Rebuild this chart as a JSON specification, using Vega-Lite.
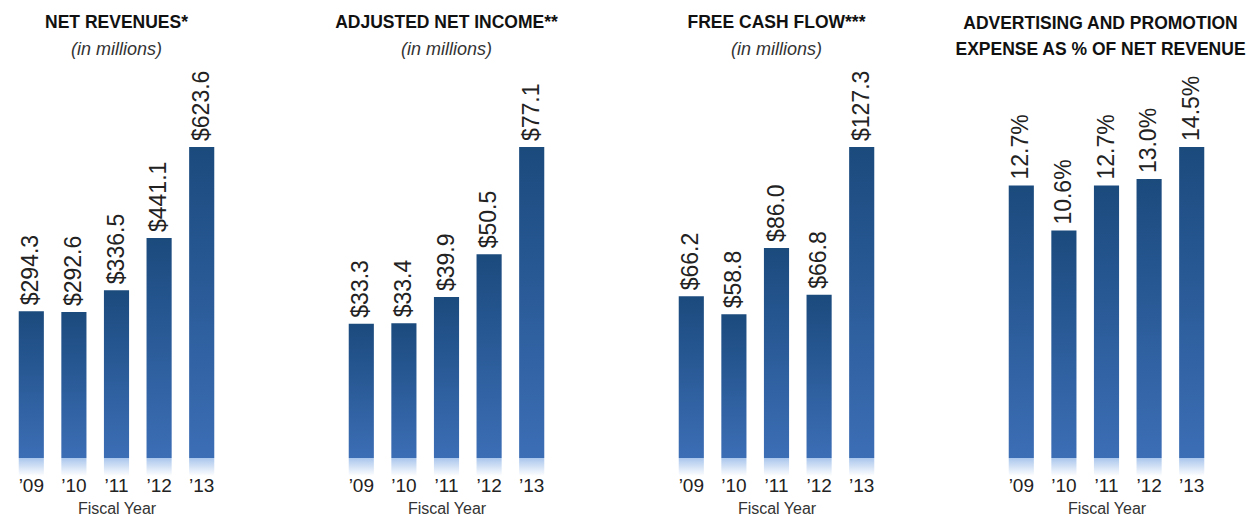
{
  "$schema": "https://vega.github.io/schema/vega-lite/v6.json",
  "background": "white",
  "padding": {"left": 10, "top": 14, "right": 0, "bottom": 0},
  "spacing": 117,
  "bounds": "flush",
  "data": {"values": [
    {"year": "’09", "rev": 294.3, "ani": 33.3, "fcf": 66.2, "adv": 12.7, "advLabel": "12.7%"},
    {"year": "’10", "rev": 292.6, "ani": 33.4, "fcf": 58.8, "adv": 10.6, "advLabel": "10.6%"},
    {"year": "’11", "rev": 336.5, "ani": 39.9, "fcf": 86.0, "adv": 12.7, "advLabel": "12.7%"},
    {"year": "’12", "rev": 441.1, "ani": 50.5, "fcf": 66.8, "adv": 13.0, "advLabel": "13.0%"},
    {"year": "’13", "rev": 623.6, "ani": 77.1, "fcf": 127.3, "adv": 14.5, "advLabel": "14.5%"}
  ]},
  "hconcat": [
    {
      "width": 213, "height": 411,
      "title": {"text": "NET REVENUES*", "subtitle": "(in millions)"},
      "encoding": {"x": {"field": "year", "type": "nominal", "sort": null, "scale": {"paddingInner": 0.41, "paddingOuter": 0.205}, "title": "Fiscal Year"}},
      "layer": [
        {"mark": {"type": "bar", "fill": {"gradient": "linear", "x1": 0, "y1": 0, "x2": 0, "y2": 1, "stops": [{"offset": 0, "color": "#1b4a7d"}, {"offset": 1, "color": "#3c6eb6"}]}},
         "encoding": {"y": {"field": "rev", "type": "quantitative", "scale": {"domain": [-36.09, 788.0], "nice": false, "zero": false}, "axis": null}, "y2": {"datum": 0}}},
        {"mark": {"type": "bar", "fill": {"gradient": "linear", "x1": 0, "y1": 0, "x2": 0, "y2": 1, "stops": [{"offset": 0, "color": "#a9c6ec"}, {"offset": 1, "color": "#ffffff"}]}},
         "encoding": {"y": {"datum": 0, "type": "quantitative"}, "y2": {"datum": -36.09}}},
        {"mark": {"type": "text", "angle": 270, "align": "left", "baseline": "middle", "dx": 6, "fontSize": 23, "font": "Liberation Sans", "color": "#222"},
         "encoding": {"y": {"field": "rev", "type": "quantitative"}, "text": {"field": "rev", "type": "quantitative", "format": "$.1f"}}}
      ]
    },
    {
      "width": 213, "height": 411,
      "title": {"text": "ADJUSTED NET INCOME**", "subtitle": "(in millions)"},
      "encoding": {"x": {"field": "year", "type": "nominal", "sort": null, "scale": {"paddingInner": 0.41, "paddingOuter": 0.205}, "title": "Fiscal Year"}},
      "layer": [
        {"mark": {"type": "bar", "fill": {"gradient": "linear", "x1": 0, "y1": 0, "x2": 0, "y2": 1, "stops": [{"offset": 0, "color": "#1b4a7d"}, {"offset": 1, "color": "#3c6eb6"}]}},
         "encoding": {"y": {"field": "ani", "type": "quantitative", "scale": {"domain": [-4.46, 97.43], "nice": false, "zero": false}, "axis": null}, "y2": {"datum": 0}}},
        {"mark": {"type": "bar", "fill": {"gradient": "linear", "x1": 0, "y1": 0, "x2": 0, "y2": 1, "stops": [{"offset": 0, "color": "#a9c6ec"}, {"offset": 1, "color": "#ffffff"}]}},
         "encoding": {"y": {"datum": 0, "type": "quantitative"}, "y2": {"datum": -4.46}}},
        {"mark": {"type": "text", "angle": 270, "align": "left", "baseline": "middle", "dx": 6, "fontSize": 23, "font": "Liberation Sans", "color": "#222"},
         "encoding": {"y": {"field": "ani", "type": "quantitative"}, "text": {"field": "ani", "type": "quantitative", "format": "$.1f"}}}
      ]
    },
    {
      "width": 213, "height": 411,
      "title": {"text": "FREE CASH FLOW***", "subtitle": "(in millions)"},
      "encoding": {"x": {"field": "year", "type": "nominal", "sort": null, "scale": {"paddingInner": 0.41, "paddingOuter": 0.205}, "title": "Fiscal Year"}},
      "layer": [
        {"mark": {"type": "bar", "fill": {"gradient": "linear", "x1": 0, "y1": 0, "x2": 0, "y2": 1, "stops": [{"offset": 0, "color": "#1b4a7d"}, {"offset": 1, "color": "#3c6eb6"}]}},
         "encoding": {"y": {"field": "fcf", "type": "quantitative", "scale": {"domain": [-7.37, 160.87], "nice": false, "zero": false}, "axis": null}, "y2": {"datum": 0}}},
        {"mark": {"type": "bar", "fill": {"gradient": "linear", "x1": 0, "y1": 0, "x2": 0, "y2": 1, "stops": [{"offset": 0, "color": "#a9c6ec"}, {"offset": 1, "color": "#ffffff"}]}},
         "encoding": {"y": {"datum": 0, "type": "quantitative"}, "y2": {"datum": -7.37}}},
        {"mark": {"type": "text", "angle": 270, "align": "left", "baseline": "middle", "dx": 6, "fontSize": 23, "font": "Liberation Sans", "color": "#222"},
         "encoding": {"y": {"field": "fcf", "type": "quantitative"}, "text": {"field": "fcf", "type": "quantitative", "format": "$.1f"}}}
      ]
    },
    {
      "width": 213, "height": 411,
      "title": {"text": ["ADVERTISING AND PROMOTION", "EXPENSE AS % OF NET REVENUE"], "dx": -6},
      "encoding": {"x": {"field": "year", "type": "nominal", "sort": null, "scale": {"paddingInner": 0.41, "paddingOuter": 0.205}, "title": "Fiscal Year"}},
      "layer": [
        {"mark": {"type": "bar", "fill": {"gradient": "linear", "x1": 0, "y1": 0, "x2": 0, "y2": 1, "stops": [{"offset": 0, "color": "#1b4a7d"}, {"offset": 1, "color": "#3c6eb6"}]}},
         "encoding": {"y": {"field": "adv", "type": "quantitative", "scale": {"domain": [-0.839, 18.32], "nice": false, "zero": false}, "axis": null}, "y2": {"datum": 0}}},
        {"mark": {"type": "bar", "fill": {"gradient": "linear", "x1": 0, "y1": 0, "x2": 0, "y2": 1, "stops": [{"offset": 0, "color": "#a9c6ec"}, {"offset": 1, "color": "#ffffff"}]}},
         "encoding": {"y": {"datum": 0, "type": "quantitative"}, "y2": {"datum": -0.839}}},
        {"mark": {"type": "text", "angle": 270, "align": "left", "baseline": "middle", "dx": 6, "fontSize": 23, "font": "Liberation Sans", "color": "#222"},
         "encoding": {"y": {"field": "adv", "type": "quantitative"}, "text": {"field": "advLabel", "type": "nominal"}}}
      ]
    }
  ],
  "config": {
    "view": {"stroke": null},
    "axisX": {"domain": false, "ticks": false, "grid": false, "labelAngle": 0, "labelPadding": 0, "labelFont": "Liberation Sans", "labelFontSize": 19, "labelColor": "#222", "titleFont": "Liberation Sans", "titleFontSize": 16, "titleFontWeight": "normal", "titleColor": "#333", "titlePadding": 5},
    "title": {"font": "Liberation Sans", "fontSize": 17.5, "fontWeight": "bold", "color": "#111", "anchor": "middle", "frame": "group", "offset": 6.5, "lineHeight": 26, "subtitleFont": "Liberation Sans", "subtitleFontStyle": "italic", "subtitleFontSize": 18, "subtitleColor": "#333", "subtitlePadding": 9}
  }
}
